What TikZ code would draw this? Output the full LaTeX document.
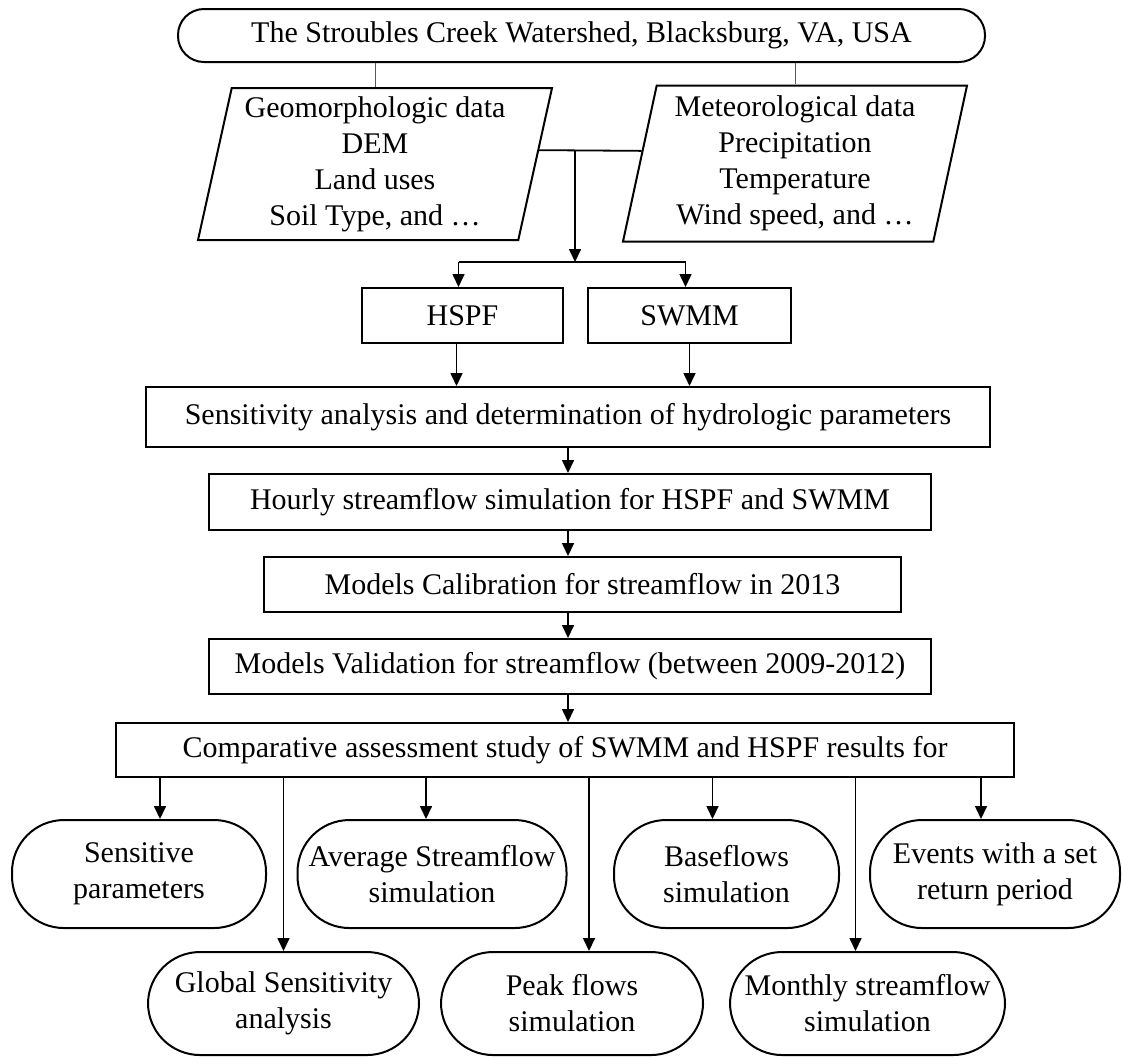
\documentclass[tikz,border=0pt]{standalone}
\usepackage{fontspec}
\setmainfont{Liberation Serif}
\usetikzlibrary{shapes.geometric,arrows.meta,calc}

\tikzset{
  txt/.style={inner sep=0pt, align=center, font=\fontsize{15}{18}\selectfont},
  stepbox/.style={txt, draw, line width=1pt, minimum height=27.5pt},
  terminal/.style={stepbox, rounded corners=13pt},
  datain/.style={txt, draw, line width=1pt, trapezium, trapezium left angle=76,
    trapezium right angle=104, trapezium stretches body=true},
  outcome/.style={txt, draw, line width=1pt, rounded corners=26pt},
  link/.style={line width=0.5pt, black!65},
  flow/.style={line width=0.8pt, -{Triangle[length=6.5pt,width=6pt]}}
}

\begin{document}
\begin{tikzpicture}[x=0.5pt, y=-0.5pt]
    \useasboundingbox (0,0) rectangle (1122,1057);
    % study area and input data
    \node[terminal, minimum width=403.5pt, minimum height=26.5pt] (area) at (581.5,35.5)
        {The Stroubles Creek Watershed, Blacksburg, VA, USA};
    \node[datain, minimum width=177pt, minimum height=76pt] (geo) at (375,164)
        {Geomorphologic data\\DEM\\Land uses\\Soil Type, and \dots};
    \node[datain, minimum width=172pt, minimum height=78pt] (met) at (795,163.5)
        {Meteorological data\\Precipitation\\Temperature\\Wind speed, and \dots};
    \draw[link] (geo.north |- area.south) -- (geo.north);
    \draw[link] (met.north |- area.south) -- (met.north);
    % models
    \node[stepbox, minimum width=100.5pt] (hspf) at (462.5,315.5) {HSPF};
    \node[stepbox, minimum width=101.5pt] (swmm) at (689.5,315.5) {SWMM};
    \coordinate (merge) at (575,151);
    \coordinate (split) at (575,262);
    \draw[line width=0.9pt] ($(geo.top right corner)!0.41!(geo.bottom right corner)$) --
        ($(met.top left corner)!0.42!(met.bottom left corner)$);
    \draw[flow] (merge) -- (split);
    \draw[line width=0.9pt] ([xshift=-2pt]hspf.north |- split) -- ([xshift=-2pt]swmm.north |- split);
    \draw[flow] ([xshift=-2pt]hspf.north |- split) -- ([xshift=-2pt]hspf.north);
    \draw[flow] ([xshift=-2pt]swmm.north |- split) -- ([xshift=-2pt]swmm.north);
    % main chain
    \node[stepbox, minimum width=422pt, minimum height=30pt] (sens) at (568,417)
        {Sensitivity analysis and determination of hydrologic parameters};
    \node[stepbox, minimum width=361pt, minimum height=28pt] (hourly) at (570,502)
        {Hourly streamflow simulation for HSPF and SWMM};
    \node[stepbox, minimum width=318.5pt] (calib) at (582.5,584.5)
        {Models Calibration for streamflow in 2013};
    \node[stepbox, minimum width=361pt] (valid) at (570,666.5)
        {Models Validation for streamflow (between 2009-2012)};
    \node[stepbox, minimum width=449pt, minimum height=27pt] (comp) at (565,750)
        {Comparative assessment study of SWMM and HSPF results for};
    \draw[flow] ([xshift=-3pt]hspf.south) -- ([xshift=-3pt]hspf.south |- sens.north);
    \draw[flow] (swmm.south) -- (swmm.south |- sens.north);
    \draw[flow] (sens.south) -- (sens.south |- hourly.north);
    \draw[flow] (sens.south |- hourly.south) -- (sens.south |- calib.north);
    \draw[flow] (sens.south |- calib.south) -- (sens.south |- valid.north);
    \draw[flow] (sens.south |- valid.south) -- (sens.south |- comp.north);
    % results
    \node[outcome, minimum width=127pt, minimum height=54pt] (sensp) at (139,874)
        {Sensitive\\parameters};
    \node[outcome, minimum width=134.5pt, minimum height=54pt] (avg) at (432,874)
        {Average Streamflow\\simulation};
    \node[outcome, minimum width=112.5pt, minimum height=54pt] (base) at (726.5,874)
        {Baseflows\\simulation};
    \node[outcome, minimum width=125pt, minimum height=54pt] (events) at (995,874)
        {Events with a set\\return period};
    \node[outcome, minimum width=135.5pt, minimum height=51.5pt] (global) at (283.5,1003.5)
        {Global Sensitivity\\analysis};
    \node[outcome, minimum width=131pt, minimum height=51.5pt] (peak) at (572,1003.5)
        {Peak flows\\simulation};
    \node[outcome, minimum width=137.5pt, minimum height=51.5pt] (monthly) at (867.5,1003.5)
        {Monthly streamflow\\simulation};
    \foreach \res/\dx in {sensp/10.5,avg/-3,base/-7,events/-7,global/0,peak/8.5,monthly/-6}
        \draw[flow] ([xshift=\dx pt]\res.north |- comp.south) -- ([xshift=\dx pt]\res.north);
\end{tikzpicture}
\end{document}
